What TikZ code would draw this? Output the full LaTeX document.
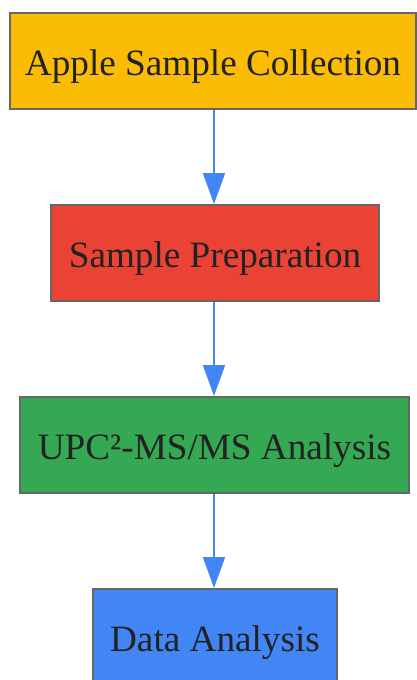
\documentclass[tikz,border=0pt]{standalone}
\usepackage{fontspec}
\setmainfont{Liberation Serif}
\usetikzlibrary{arrows.meta}
\definecolor{gyellow}{HTML}{FBBC05}
\definecolor{gred}{HTML}{EA4335}
\definecolor{ggreen}{HTML}{34A853}
\definecolor{gblue}{HTML}{4285F4}
\definecolor{edgegray}{HTML}{666666}
\definecolor{txt}{HTML}{222222}
\tikzset{
  stagebox/.style={draw=edgegray, line width=2pt, text=txt, inner sep=0pt,
    minimum height=96pt, text height=28pt, text depth=0pt,
    font=\fontsize{37.2}{44}\selectfont},
  flow/.style={-{Triangle[width=22pt,length=31pt]}, gblue, line width=2pt}
}
\begin{document}
\begin{tikzpicture}[x=1pt,y=1pt]
\useasboundingbox (0,0) rectangle (417,-680);

\node[stagebox, fill=gyellow, minimum width=406pt] (collect) at (213,-61) {Apple Sample Collection};
\node[stagebox, fill=gred, minimum width=328pt] (prep) at (215,-253) {Sample Preparation};
\node[stagebox, fill=ggreen, minimum width=389pt] (upc) at (214.5,-445) {UPC²-MS/MS Analysis};
\node[stagebox, fill=gblue, minimum width=244pt] (data) at (215,-637) {Data Analysis};

\draw[flow] (collect.south -| 214,0) -- (prep.north -| 214,0);
\draw[flow] (prep.south -| 214,0) -- (upc.north -| 214,0);
\draw[flow] (upc.south -| 214,0) -- (data.north -| 214,0);

\end{tikzpicture}
\end{document}
